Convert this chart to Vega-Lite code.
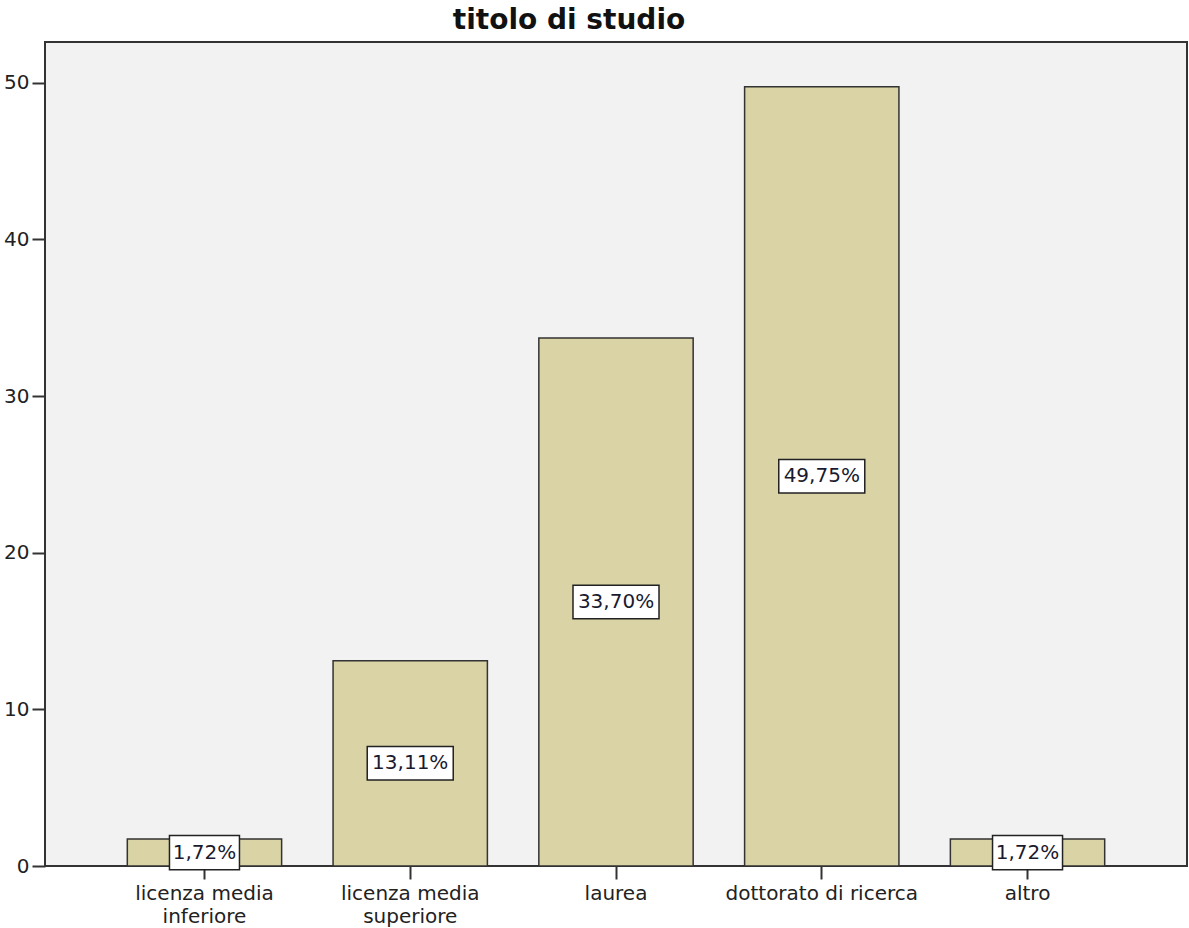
{
  "$schema": "https://vega.github.io/schema/vega-lite/v6.json",
  "width": 1142,
  "height": 824,
  "autosize": "none",
  "padding": {"left": 45, "top": 42, "right": 2, "bottom": 62},
  "background": "white",
  "title": {
    "text": "titolo di studio",
    "font": "DejaVu Sans",
    "fontSize": 28,
    "fontWeight": "bold",
    "color": "#111",
    "anchor": "middle",
    "dx": -47,
    "offset": 7
  },
  "config": {
    "view": {"stroke": "#333", "strokeWidth": 2, "fill": "#F2F2F2"},
    "font": "DejaVu Sans"
  },
  "data": {
    "values": [
      {"titolo": "licenza media inferiore", "pct": 1.72, "label": "1,72%"},
      {"titolo": "licenza media superiore", "pct": 13.11, "label": "13,11%"},
      {"titolo": "laurea", "pct": 33.70, "label": "33,70%"},
      {"titolo": "dottorato di ricerca", "pct": 49.75, "label": "49,75%"},
      {"titolo": "altro", "pct": 1.72, "label": "1,72%"}
    ]
  },
  "encoding": {
    "x": {
      "field": "titolo",
      "type": "nominal",
      "sort": null,
      "scale": {"paddingInner": 0.25, "paddingOuter": 0.4},
      "axis": {
        "title": null,
        "labelAngle": 0,
        "labelFontSize": 20,
        "labelColor": "#222",
        "labelPadding": 4,
        "labelLineHeight": 23,
        "labelLimit": 400,
        "labelExpr": "split(replace(datum.label, 'media ', 'media|'), '|')",
        "tickSize": 13,
        "tickWidth": 2,
        "tickColor": "#333",
        "domain": false,
        "grid": false
      }
    }
  },
  "layer": [
    {
      "mark": {"type": "bar", "fill": "#D9D3A6", "stroke": "#333", "strokeWidth": 1.5},
      "encoding": {
        "y": {
          "field": "pct",
          "type": "quantitative",
          "scale": {"domain": [0, 52.6], "nice": false},
          "axis": {
            "title": null,
            "values": [0, 10, 20, 30, 40, 50],
            "labelFontSize": 20,
            "labelColor": "#222",
            "labelPadding": 3,
            "tickSize": 13,
            "tickWidth": 2,
            "tickColor": "#333",
            "domain": false,
            "grid": false
          }
        }
      }
    },
    {
      "transform": [{"filter": "datum.pct >= 10"}],
      "mark": {
        "type": "point",
        "shape": "M-1,-0.39L1,-0.39L1,0.39L-1,0.39Z",
        "size": 7396,
        "filled": true,
        "fill": "white",
        "stroke": "#222",
        "strokeWidth": 1.5,
        "opacity": 1
      },
      "encoding": {
        "y": {"field": "pct", "type": "quantitative", "scale": {"domain": [0, 105.2], "nice": false}, "axis": null}
      }
    },
    {
      "transform": [{"filter": "datum.pct < 10"}],
      "mark": {
        "type": "point",
        "shape": "M-1,-0.49L1,-0.49L1,0.49L-1,0.49Z",
        "size": 4900,
        "filled": true,
        "fill": "white",
        "stroke": "#222",
        "strokeWidth": 1.5,
        "opacity": 1
      },
      "encoding": {
        "y": {"field": "pct", "type": "quantitative", "scale": {"domain": [0, 105.2], "nice": false}, "axis": null}
      }
    },
    {
      "mark": {"type": "text", "fontSize": 20, "color": "#1a1a2e", "baseline": "middle", "align": "center"},
      "encoding": {
        "y": {"field": "pct", "type": "quantitative", "scale": {"domain": [0, 105.2], "nice": false}, "axis": null},
        "text": {"field": "label"}
      }
    }
  ],
  "resolve": {"scale": {"y": "independent"}}
}
